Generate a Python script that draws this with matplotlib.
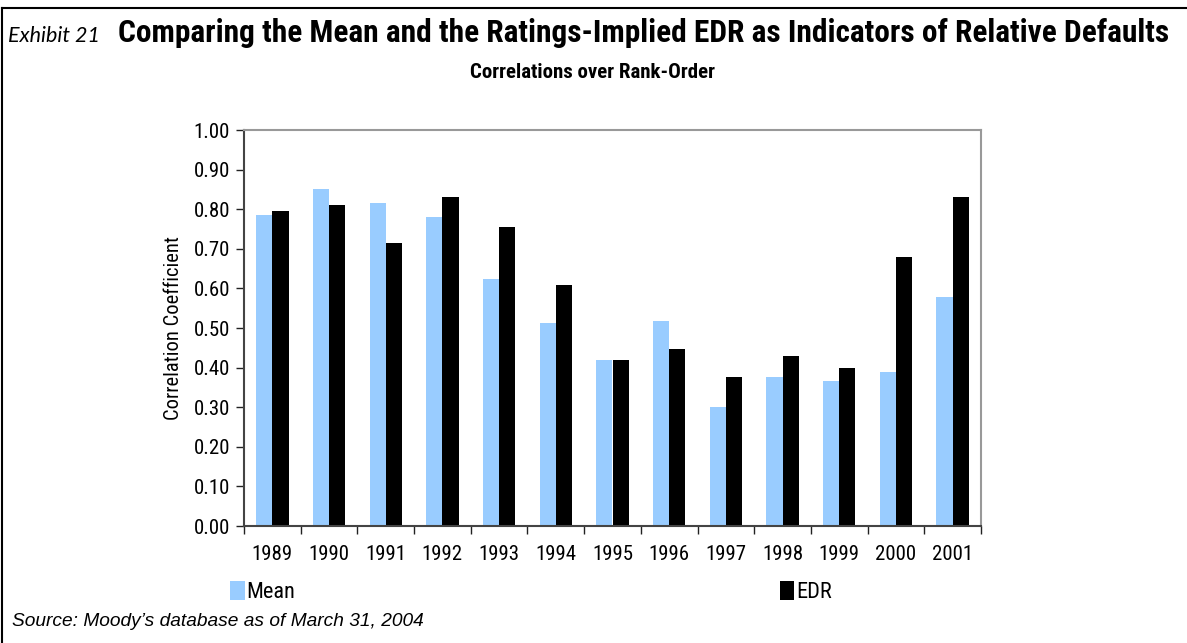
import matplotlib
matplotlib.use("Agg")
import matplotlib.pyplot as plt
from matplotlib.patches import Patch
from matplotlib.lines import Line2D
import numpy as np

years = ["1989", "1990", "1991", "1992", "1993", "1994", "1995",
         "1996", "1997", "1998", "1999", "2000", "2001"]
mean_vals = [0.785, 0.851, 0.816, 0.780, 0.624, 0.513, 0.420,
             0.517, 0.300, 0.376, 0.366, 0.390, 0.578]
edr_vals = [0.795, 0.810, 0.715, 0.830, 0.755, 0.608, 0.420,
            0.447, 0.376, 0.430, 0.400, 0.680, 0.830]
yticks = [0.0, 0.1, 0.2, 0.3, 0.4, 0.5, 0.6, 0.7, 0.8, 0.9, 1.0]

plt.rcParams['font.family'] = ['Roboto Condensed', 'Liberation Sans', 'DejaVu Sans']

fig = plt.figure(figsize=(11.87, 6.43), dpi=100)
ax = fig.add_axes([244/1187, 1-526/643, (981-244)/1187, (526-130)/643])

x = np.arange(len(years))
w = 0.285
ax.bar(x - w/2, mean_vals, width=w, color="#99CCFF", label="Mean", zorder=2)
ax.bar(x + w/2, edr_vals, width=w, color="#000000", label="EDR", zorder=2)

ax.set_xlim(-0.5, len(years) - 0.5)
ax.set_ylim(0, 1.0)
ax.set_yticks(yticks)
ax.set_yticklabels([f"{v:.2f}" for v in yticks], fontsize=15)
ax.set_xticks(x)
ax.set_xticklabels(years, fontsize=15)
ax.set_xticks(np.arange(-0.5, len(years)), minor=True)
ax.tick_params(axis='x', which='major', length=0, pad=14)
ax.tick_params(axis='x', which='minor', length=6, direction='out', width=1, color='#222222')
ax.tick_params(axis='y', length=6, direction='out', width=1, color='#222222', pad=4)

for s in ['top', 'right']:
    ax.spines[s].set_color('#999999')
    ax.spines[s].set_linewidth(1.5)
for s in ['left', 'bottom']:
    ax.spines[s].set_color('#444444')
    ax.spines[s].set_linewidth(1.5)

ax.set_ylabel("Correlation Coefficient", fontsize=14.8, labelpad=8)

handles = [Patch(facecolor="#99CCFF", edgecolor="none"),
           Patch(facecolor="#000000", edgecolor="none")]
leg = fig.legend(handles, ["Mean", "EDR"], ncol=2, loc='center',
                 bbox_to_anchor=(531/1187, 1-592/643), frameon=False,
                 fontsize=16, handlelength=0.65, handleheight=0.95,
                 handletextpad=0.08, columnspacing=21.8)

fig.text(118/1187, 1-42/643, "Comparing the Mean and the Ratings-Implied EDR as Indicators of Relative Defaults",
         fontsize=22.6, fontweight='bold', ha='left', va='baseline')
fig.text(8/1187, 1-42/643, "Exhibit 21", fontsize=15.5, style='italic',
         family=["Lato", "DejaVu Sans"], ha='left', va='baseline')
fig.text(592/1187, 1-78/643, "Correlations over Rank-Order", fontsize=15,
         fontweight='bold', ha='center', va='baseline')
fig.text(12/1187, 1-626/643, "Source: Moody\u2019s database as of March 31, 2004",
         fontsize=13.8, style='italic', family=["Liberation Sans", "DejaVu Sans"],
         ha='left', va='baseline')

fig.add_artist(Line2D([2/1187, 1], [1-8/643, 1-8/643], color='black', lw=1.5,
                      transform=fig.transFigure))
fig.add_artist(Line2D([2/1187, 2/1187], [0, 1-8/643], color='black', lw=1.5,
                      transform=fig.transFigure))

fig.savefig("out.png", dpi=100)
